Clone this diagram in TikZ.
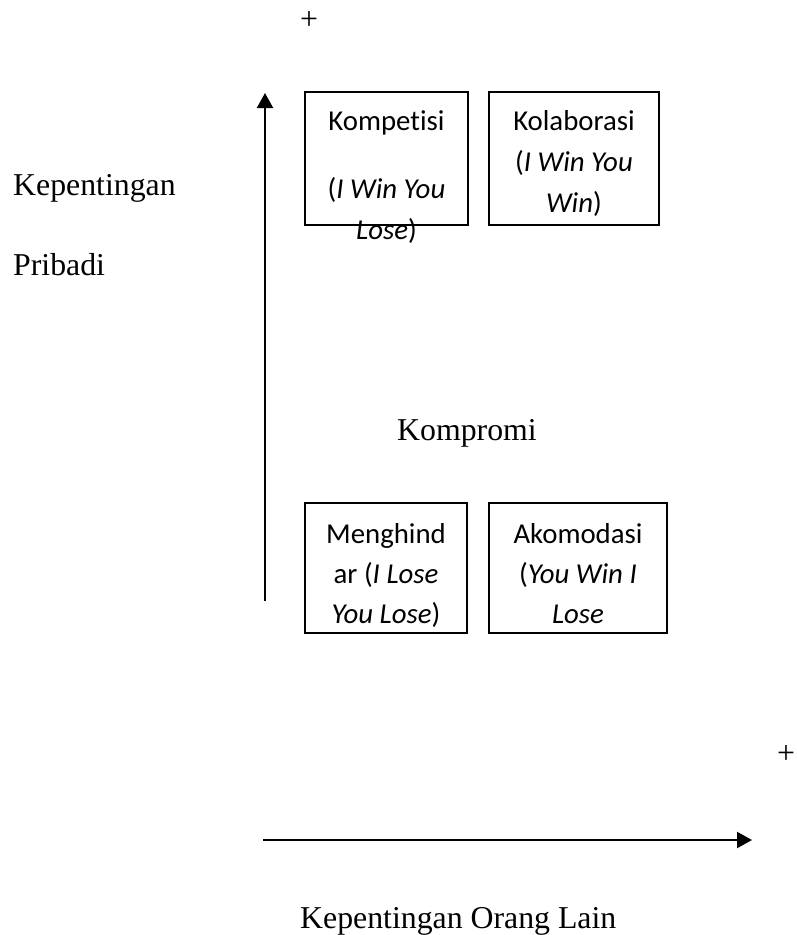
\documentclass[tikz,border=0pt]{standalone}
\usepackage{fontspec}
\setmainfont{Liberation Serif}
\newfontfamily\boxfont[Ligatures=NoCommon]{Carlito}
\usetikzlibrary{arrows.meta}
\begin{document}
\begin{tikzpicture}[x=1pt,y=-1pt,
  serif/.style={inner sep=0pt,font=\fontsize{31.8}{36}\selectfont},
  boxtxt/.style={inner sep=0pt,anchor=base,font=\boxfont\fontsize{28.8}{34}\selectfont},
  boxframe/.style={draw,line width=1.4pt},
  axis/.style={line width=2.2pt,-{Triangle[length=15pt,width=16pt]}}]
\useasboundingbox (0,0) rectangle (796,935);
% plus signs
\node[serif] (plusT) at (309,21) {+};
\node[serif] (plusR) at (786,755) {+};
% axes
\coordinate (vS) at (265,601);
\coordinate (vE) at (265,93);
\coordinate (hS) at (263,840);
\coordinate (hE) at (752,840);
\draw[axis] (vS) -- (vE);
\draw[axis] (hS) -- (hE);
% boxes
\draw[boxframe] (305,92) rectangle (468,225);
\draw[boxframe] (489,92) rectangle (659,225);
\draw[boxframe] (305,503) rectangle (467,633);
\draw[boxframe] (489,503) rectangle (667,633);
% Kompetisi
\node[boxtxt] (k1) at (386.5,130) {Kompetisi};
\node[boxtxt] (k2) at (386.5,198) {(\textit{I Win You}};
\node[boxtxt] (k3) at (386.5,239) {\textit{Lose})};
% Kolaborasi
\node[boxtxt] (c1) at (574,130) {Kolaborasi};
\node[boxtxt] (c2) at (574,171) {(\textit{I Win You}};
\node[boxtxt] (c3) at (574,212) {\textit{Win})};
% Menghindar
\node[boxtxt] (m1) at (386,543) {Menghind};
\node[boxtxt] (m2) at (386,583) {ar (\textit{I Lose}};
\node[boxtxt] (m3) at (386,623) {\textit{You Lose})};
% Akomodasi
\node[boxtxt] (a1) at (578,543) {Akomodasi};
\node[boxtxt] (a2) at (578,583) {(\textit{You Win I}};
\node[boxtxt] (a3) at (578,623) {\textit{Lose}};
% serif labels
\node[serif,anchor=base west] (kp1) at (13,195) {Kepentingan};
\node[serif,anchor=base west] (kp2) at (13,275) {Pribadi};
\node[serif,anchor=base west] (komp) at (397,440) {Kompromi};
\node[serif,anchor=base west] (kol) at (300,928) {Kepentingan Orang Lain};
\end{tikzpicture}
\end{document}
